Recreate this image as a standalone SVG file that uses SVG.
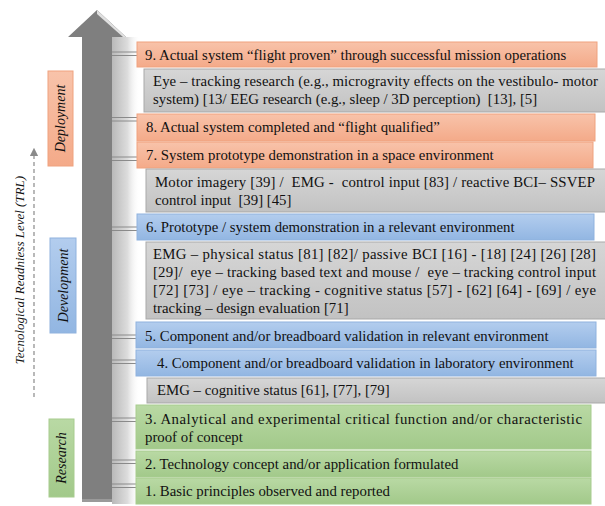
<svg xmlns="http://www.w3.org/2000/svg" width="605" height="506" viewBox="0 0 605 506">
<style>
text{font-family:"Liberation Serif","Times New Roman",serif;font-size:14.8px;fill:#111}
.it{font-style:italic;font-size:14px}
.ax{font-style:italic;font-size:13px}
.or{fill:url(#gO);stroke:#efa27f;stroke-width:1}
.bl{fill:url(#gB);stroke:#8fb2de;stroke-width:1}
.gr{fill:url(#gG);stroke:#a7cc8e;stroke-width:1}
.gy{fill:url(#gY);stroke:#a9a9a9;stroke-width:1}
.cn line{stroke:#8a8a8a;stroke-width:1}
</style>
<defs>
<linearGradient id="gO" x1="0" y1="0" x2="0" y2="1"><stop offset="0" stop-color="#f8c3aa"/><stop offset="1" stop-color="#f4aa89"/></linearGradient>
<linearGradient id="gB" x1="0" y1="0" x2="0" y2="1"><stop offset="0" stop-color="#b3cdee"/><stop offset="1" stop-color="#92b6e2"/></linearGradient>
<linearGradient id="gG" x1="0" y1="0" x2="0" y2="1"><stop offset="0" stop-color="#b9d9a4"/><stop offset="1" stop-color="#a2c98a"/></linearGradient>
<linearGradient id="gY" x1="0" y1="0" x2="0" y2="1"><stop offset="0" stop-color="#d6d6d6"/><stop offset="1" stop-color="#c2c2c2"/></linearGradient>
<linearGradient id="gS" x1="0" y1="0" x2="1" y2="0"><stop offset="0" stop-color="#b9b9b9"/><stop offset="0.55" stop-color="#dcdcdc"/><stop offset="1" stop-color="#ffffff" stop-opacity="0"/></linearGradient>
<marker id="ah" viewBox="0 0 10 10" refX="5" refY="5" markerWidth="7" markerHeight="7" orient="auto"><path d="M0,0 L10,5 L0,10 z" fill="#8a8a8a"/></marker>
</defs>

<g id="arrow">
<rect x="112" y="37" width="28" height="467" fill="url(#gS)"/>
<polygon points="97,10 126,37 112,37 112,40 97,22" fill="#c9c9c9"/>
<polygon points="97,10 68,37 82,37 82,502 112,502 112,37 126,37" fill="#7f7f7f"/>
<polygon points="97,10 126,37 123,37 97,14" fill="#e0e0e0"/>
<rect x="82" y="499" width="30" height="3" fill="#9a9a9a"/>
</g>

<g id="trl-axis">
<line x1="34" y1="397" x2="34" y2="152" stroke="#8a8a8a" stroke-width="1.2" stroke-dasharray="4,3" marker-end="url(#ah)"/>
<text class="ax" transform="translate(24,270) rotate(-90)" text-anchor="middle">Tecnological Readniess Level (TRL)</text>
</g>

<g id="phase-deployment"><rect class="or" x="48" y="71" width="25" height="95"/><text class="it" transform="translate(65,118.5) rotate(-90)" text-anchor="middle">Deployment</text></g>
<g id="phase-development"><rect class="bl" x="50" y="238" width="26" height="95"/><text class="it" transform="translate(67.5,285.5) rotate(-90)" text-anchor="middle">Development</text></g>
<g id="phase-research"><rect class="gr" x="49" y="419" width="25" height="78"/><text class="it" transform="translate(66,458) rotate(-90)" text-anchor="middle">Research</text></g>

<g id="connectors" class="cn">
<line x1="112" y1="52" x2="137" y2="52"/><line x1="112" y1="55.5" x2="137" y2="55.5"/>
<line x1="112" y1="117.5" x2="137" y2="117.5"/><line x1="112" y1="121" x2="137" y2="121"/>
<line x1="112" y1="157" x2="137" y2="157"/><line x1="112" y1="160.5" x2="137" y2="160.5"/>
<line x1="112" y1="227" x2="137" y2="227"/><line x1="112" y1="230.5" x2="137" y2="230.5"/>
<line x1="112" y1="335" x2="137" y2="335"/><line x1="112" y1="338.5" x2="137" y2="338.5"/>
<line x1="112" y1="360" x2="137" y2="360"/><line x1="112" y1="363.5" x2="137" y2="363.5"/>
<line x1="112" y1="418" x2="137" y2="418"/><line x1="112" y1="421.5" x2="137" y2="421.5"/>
<line x1="112" y1="460" x2="137" y2="460"/><line x1="112" y1="463.5" x2="137" y2="463.5"/>
<line x1="112" y1="484" x2="137" y2="484"/><line x1="112" y1="487.5" x2="137" y2="487.5"/>
</g>

<g id="trl9"><rect class="or" x="137" y="42" width="460" height="25"/><text x="145" y="60">9. Actual system “flight proven” through successful mission operations</text></g>
<g id="note-deploy9"><rect class="gy" x="144" y="69" width="462" height="43"/>
<text x="153" y="86" textLength="445" lengthAdjust="spacing">Eye – tracking research (e.g., microgravity effects on the vestibulo- motor</text>
<text x="153" y="104" xml:space="preserve">system) [13/ EEG research (e.g., sleep / 3D perception)  [13], [5]</text></g>
<g id="trl8"><rect class="or" x="137" y="114" width="458" height="27"/><text x="146" y="132">8. Actual system completed and “flight qualified”</text></g>
<g id="trl7"><rect class="or" x="137" y="142" width="456" height="26"/><text x="146" y="160">7. System prototype demonstration in a space environment</text></g>
<g id="note-deploy7"><rect class="gy" x="146" y="169" width="460" height="43"/>
<text x="155" y="187" textLength="440" lengthAdjust="spacing" xml:space="preserve">Motor imagery [39] /  EMG -  control input [83] / reactive BCI– SSVEP</text>
<text x="155" y="205" xml:space="preserve">control input  [39] [45]</text></g>
<g id="trl6"><rect class="bl" x="137" y="214" width="457" height="26"/><text x="146" y="232">6. Prototype / system demonstration in a relevant environment</text></g>
<g id="note-dev6"><rect class="gy" x="146" y="242" width="460" height="77"/>
<text x="153" y="259" textLength="443" lengthAdjust="spacing">EMG – physical status [81] [82]/ passive BCI [16] - [18] [24] [26] [28]</text>
<text x="153" y="277" textLength="443" lengthAdjust="spacing" xml:space="preserve">[29]/  eye – tracking based text and mouse /  eye – tracking control input</text>
<text x="153" y="295" textLength="443" lengthAdjust="spacing">[72] [73] / eye – tracking - cognitive status [57] - [62] [64] - [69] / eye</text>
<text x="153" y="313">tracking – design evaluation [71]</text></g>
<g id="trl5"><rect class="bl" x="136" y="322" width="460" height="26"/><text x="145" y="341">5. Component and/or breadboard validation in relevant environment</text></g>
<g id="trl4"><rect class="bl" x="136" y="350" width="460" height="26"/><text x="157" y="368">4. Component and/or breadboard validation in laboratory environment</text></g>
<g id="note-dev4"><rect class="gy" x="147" y="378" width="459" height="25"/><text x="157" y="395">EMG – cognitive status [61], [77], [79]</text></g>
<g id="trl3"><rect class="gr" x="136" y="405" width="455" height="44"/>
<text x="145" y="424" textLength="437" lengthAdjust="spacing">3. Analytical and experimental critical function and/or characteristic</text>
<text x="145" y="442">proof of concept</text></g>
<g id="trl2"><rect class="gr" x="136" y="451" width="455" height="26"/><text x="145" y="469">2. Technology concept and/or application formulated</text></g>
<g id="trl1"><rect class="gr" x="136" y="478" width="455" height="26"/><text x="145" y="496">1. Basic principles observed and reported</text></g>
</svg>
